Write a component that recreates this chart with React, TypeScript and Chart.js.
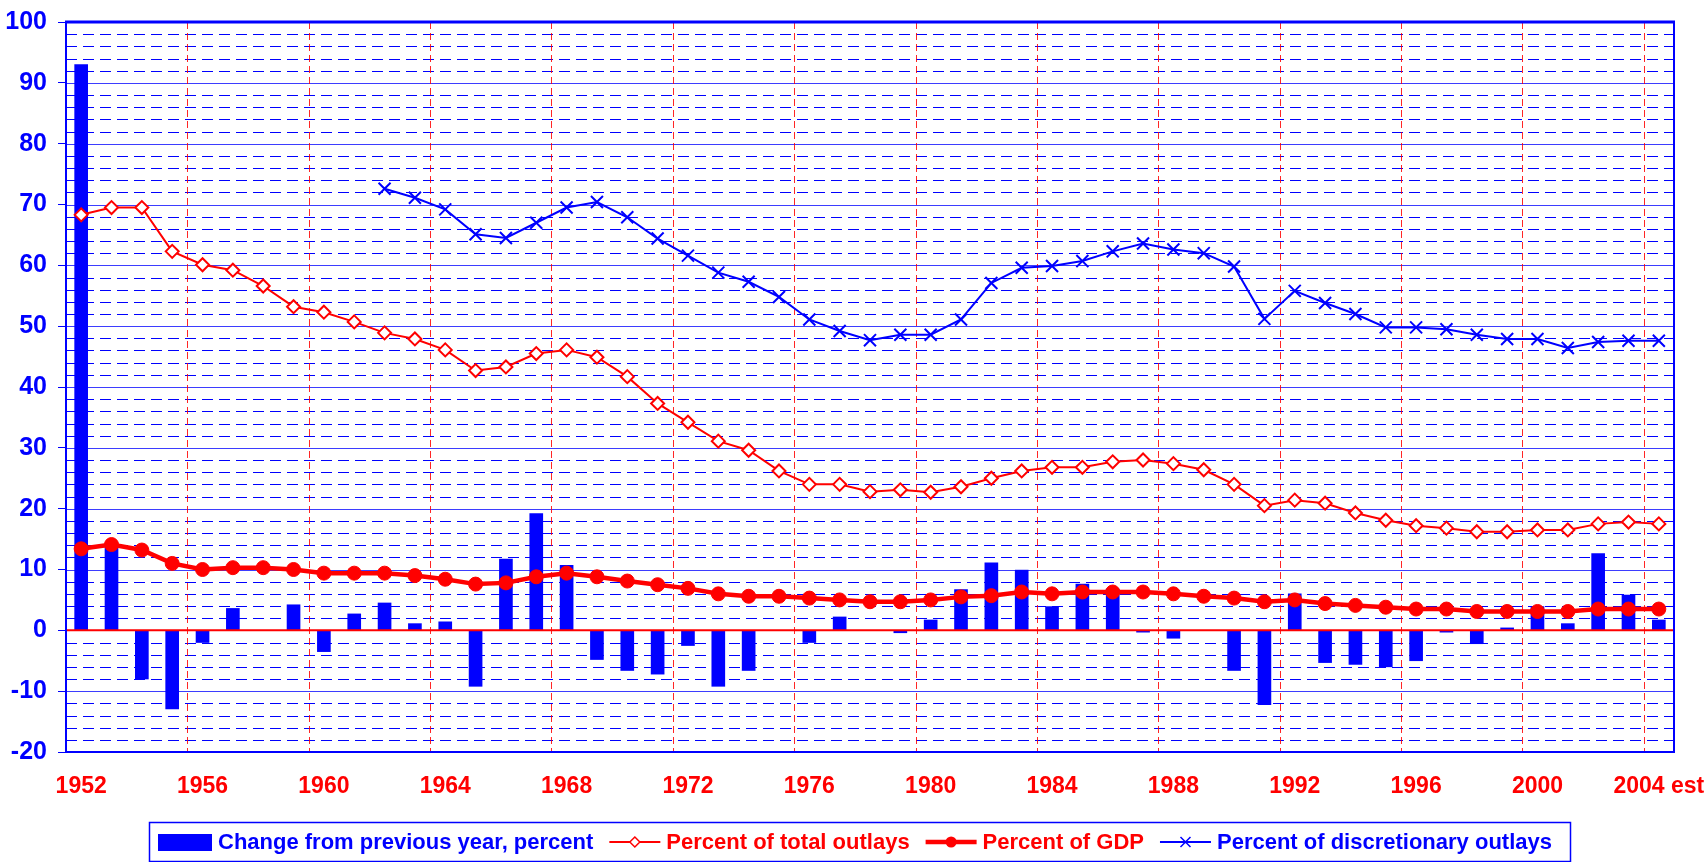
import React, { useEffect, useRef } from 'react';
import { Chart, registerables } from 'chart.js';

Chart.register(...registerables);

const FONT = '"Liberation Sans", Arial, Helvetica, sans-serif';

const years = [
  '1952', '1953', '1954', '1955', '1956', '1957', '1958', '1959', '1960', '1961',
  '1962', '1963', '1964', '1965', '1966', '1967', '1968', '1969', '1970', '1971',
  '1972', '1973', '1974', '1975', '1976', '1977', '1978', '1979', '1980', '1981',
  '1982', '1983', '1984', '1985', '1986', '1987', '1988', '1989', '1990', '1991',
  '1992', '1993', '1994', '1995', '1996', '1997', '1998', '1999', '2000', '2001',
  '2002', '2003', '2004 est',
];

const changeFromPrevYear = [
  93, 14, -8, -12.9, -2.0, 3.6, 0, 4.2, -3.5, 2.7,
  4.5, 1.1, 1.4, -9.2, 11.7, 19.2, 10.7, -4.8, -6.6, -7.2,
  -2.5, -9.2, -6.6, 0, -2.0, 2.2, 0, -0.4, 1.7, 6.7,
  11.1, 9.9, 3.9, 7.6, 6.8, -0.3, -1.3, 0, -6.6, -12.2,
  6.0, -5.3, -5.6, -6.0, -5.0, -0.3, -2.2, 0.4, 3.9, 1.1,
  12.6, 5.8, 1.7,
];

const pctTotalOutlays = [
  68.3, 69.5, 69.5, 62.3, 60.1, 59.2, 56.6, 53.2, 52.3, 50.7,
  48.9, 47.9, 46.1, 42.7, 43.3, 45.5, 46.1, 44.9, 41.7, 37.3,
  34.2, 31.1, 29.6, 26.2, 24.0, 24.0, 22.8, 23.1, 22.7, 23.6,
  25.0, 26.2, 26.8, 26.8, 27.7, 28.0, 27.4, 26.4, 24.0, 20.5,
  21.4, 20.9, 19.3, 18.1, 17.2, 16.8, 16.2, 16.2, 16.5, 16.5,
  17.5, 17.8, 17.5,
];

const pctGDP = [
  13.4, 14.1, 13.2, 11.0, 10.0, 10.3, 10.3, 10.0, 9.4, 9.4,
  9.4, 9.0, 8.4, 7.6, 7.8, 8.8, 9.4, 8.8, 8.1, 7.5,
  6.9, 6.0, 5.6, 5.6, 5.3, 5.0, 4.7, 4.7, 5.0, 5.5,
  5.7, 6.3, 6.0, 6.3, 6.3, 6.3, 6.0, 5.6, 5.3, 4.7,
  5.0, 4.4, 4.1, 3.8, 3.5, 3.5, 3.1, 3.1, 3.1, 3.1,
  3.5, 3.5, 3.5,
];

const pctDiscretionary = [
  null, null, null, null, null, null, null, null, null, null,
  72.6, 71.1, 69.2, 65.1, 64.5, 67.0, 69.5, 70.4, 67.9, 64.4,
  61.6, 58.8, 57.3, 54.8, 51.1, 49.2, 47.7, 48.6, 48.6, 51.1,
  57.1, 59.6, 59.9, 60.7, 62.3, 63.6, 62.6, 62.0, 59.8, 51.2,
  55.8, 53.8, 52.0, 49.8, 49.8, 49.5, 48.6, 47.9, 47.9, 46.4,
  47.4, 47.6, 47.6,
];

const Y_MIN = -20;
const Y_MAX = 100;
const Y_MAJOR = 10;
const Y_MINOR = 2;
const X_LABEL_EVERY = 4;

const BLUE = '#0000ff';
const RED = '#ff0000';

const decorPlugin = {
  id: 'decor',
  beforeDatasetsDraw(chart: any) {
    const { ctx, chartArea: a, scales } = chart;
    const ys = scales.y;
    const xs = scales.x;
    ctx.save();
    ctx.lineWidth = 1;
    ctx.strokeStyle = BLUE;
    ctx.setLineDash([11, 6]);
    for (let v = Y_MIN; v <= Y_MAX; v += Y_MINOR) {
      if (v % Y_MAJOR === 0) continue;
      const py = Math.round(ys.getPixelForValue(v)) + 0.5;
      ctx.beginPath();
      ctx.moveTo(a.left, py);
      ctx.lineTo(a.right, py);
      ctx.stroke();
    }
    ctx.setLineDash([]);
    ctx.strokeStyle = 'rgba(40,40,255,0.9)';
    for (let v = Y_MIN + Y_MAJOR; v < Y_MAX; v += Y_MAJOR) {
      if (v === 0) continue;
      const py = Math.round(ys.getPixelForValue(v)) + 0.5;
      ctx.beginPath();
      ctx.moveTo(a.left, py);
      ctx.lineTo(a.right, py);
      ctx.stroke();
    }
    ctx.strokeStyle = 'rgba(255,0,0,0.85)';
    ctx.setLineDash([7, 4]);
    for (let i = X_LABEL_EVERY; i < years.length; i += X_LABEL_EVERY) {
      const px = Math.round((xs.getPixelForValue(i - 1) + xs.getPixelForValue(i)) / 2) + 0.5;
      ctx.beginPath();
      ctx.moveTo(px, a.top);
      ctx.lineTo(px, a.bottom);
      ctx.stroke();
    }
    ctx.restore();
  },
  afterDatasetsDraw(chart: any) {
    const { ctx, chartArea: a, scales } = chart;
    const ys = scales.y;
    ctx.save();
    const p0 = ys.getPixelForValue(0);
    ctx.strokeStyle = RED;
    ctx.lineWidth = 2;
    ctx.beginPath();
    ctx.moveTo(a.left, p0);
    ctx.lineTo(a.right, p0);
    ctx.stroke();
    ctx.strokeStyle = BLUE;
    ctx.lineWidth = 2;
    ctx.beginPath();
    ctx.moveTo(a.left, a.top);
    ctx.lineTo(a.left, a.bottom);
    ctx.lineTo(a.right, a.bottom);
    ctx.lineTo(a.right, a.top);
    ctx.stroke();
    ctx.lineWidth = 3;
    ctx.beginPath();
    ctx.moveTo(a.left - 1, a.top);
    ctx.lineTo(a.right + 1, a.top);
    ctx.stroke();
    ctx.restore();
  },
  afterDraw(chart: any) {
    const { ctx } = chart;
    const ds = chart.data.datasets;
    ctx.save();
    ctx.font = `bold 22px ${FONT}`;
    ctx.textBaseline = 'middle';
    ctx.textAlign = 'left';
    const cy = 842;
    ctx.strokeStyle = BLUE;
    ctx.lineWidth = 1.5;
    ctx.strokeRect(149.5, 822.5, 1421, 39);
    let x = 158;
    [0, 1, 2, 3].forEach((k) => {
      const d = ds[k];
      if (k === 0) {
        ctx.fillStyle = BLUE;
        ctx.fillRect(x, 834, 54, 17);
        x += 60;
      } else {
        const w = 51;
        ctx.strokeStyle = d.borderColor;
        ctx.lineWidth = d.borderWidth;
        ctx.beginPath();
        ctx.moveTo(x, cy);
        ctx.lineTo(x + w, cy);
        ctx.stroke();
        const mx = x + w / 2;
        if (d.pointStyle === 'rectRot') {
          ctx.fillStyle = '#ffffff';
          ctx.lineWidth = 1.5;
          ctx.beginPath();
          ctx.moveTo(mx, cy - 5);
          ctx.lineTo(mx + 5, cy);
          ctx.lineTo(mx, cy + 5);
          ctx.lineTo(mx - 5, cy);
          ctx.closePath();
          ctx.fill();
          ctx.stroke();
        } else if (d.pointStyle === 'circle') {
          ctx.fillStyle = d.pointBackgroundColor;
          ctx.beginPath();
          ctx.arc(mx, cy, 5.5, 0, Math.PI * 2);
          ctx.fill();
        } else {
          ctx.lineWidth = 1.5;
          ctx.beginPath();
          ctx.moveTo(mx - 5, cy - 5);
          ctx.lineTo(mx + 5, cy + 5);
          ctx.moveTo(mx + 5, cy - 5);
          ctx.lineTo(mx - 5, cy + 5);
          ctx.stroke();
        }
        x += w + 6;
      }
      ctx.fillStyle = d.legendColor;
      ctx.fillText(d.label, x, cy + 1);
      x += ctx.measureText(d.label).width + 16;
    });
    ctx.restore();
  },
};

export default function App() {
  const ref = useRef<HTMLCanvasElement | null>(null);

  useEffect(() => {
    if (!ref.current) return;
    const chart = new Chart(ref.current, {
      type: 'bar',
      data: {
        labels: years,
        datasets: [
          {
            type: 'bar',
            label: 'Change from previous year, percent',
            data: changeFromPrevYear,
            backgroundColor: BLUE,
            borderWidth: 0,
            barThickness: 13,
            order: 4,
            legendColor: BLUE,
          } as any,
          {
            type: 'line',
            label: 'Percent of total outlays',
            data: pctTotalOutlays,
            borderColor: RED,
            borderWidth: 2,
            pointStyle: 'rectRot',
            pointRadius: 6.5,
            pointBackgroundColor: '#ffffff',
            pointBorderColor: RED,
            pointBorderWidth: 2,
            tension: 0,
            order: 3,
            legendColor: RED,
          } as any,
          {
            type: 'line',
            label: 'Percent of GDP',
            data: pctGDP,
            borderColor: RED,
            borderWidth: 4.5,
            pointStyle: 'circle',
            pointRadius: 7,
            pointBackgroundColor: RED,
            pointBorderColor: RED,
            pointBorderWidth: 1,
            tension: 0,
            order: 1,
            legendColor: RED,
          } as any,
          {
            type: 'line',
            label: 'Percent of discretionary outlays',
            data: pctDiscretionary,
            borderColor: BLUE,
            borderWidth: 2,
            pointStyle: 'crossRot',
            pointRadius: 8.5,
            pointBorderColor: BLUE,
            pointBorderWidth: 2,
            tension: 0,
            order: 2,
            legendColor: BLUE,
          } as any,
        ],
      },
      options: {
        responsive: false,
        animation: false,
        layout: { padding: { top: 22, right: 33, bottom: 0, left: 0 } },
        plugins: {
          legend: { display: false },
          tooltip: { enabled: false },
        },
        scales: {
          x: {
            type: 'category',
            offset: true,
            grid: { display: false, drawTicks: false },
            border: { display: false },
            ticks: {
              autoSkip: false,
              maxRotation: 0,
              minRotation: 0,
              padding: 21,
              color: RED,
              font: { family: FONT, size: 23, weight: 'bold' },
              callback: (_v: any, i: number) => (i % X_LABEL_EVERY === 0 ? years[i] : null),
            },
            afterFit: (s: any) => {
              s.height = 110;
              s.paddingLeft = 0;
              s.paddingRight = 0;
            },
          },
          y: {
            min: Y_MIN,
            max: Y_MAX,
            grid: {
              drawOnChartArea: false,
              drawTicks: true,
              tickLength: 8,
              color: BLUE,
              lineWidth: 1,
            },
            border: { display: false },
            ticks: {
              stepSize: Y_MAJOR,
              padding: 11,
              color: BLUE,
              font: { family: FONT, size: 25, weight: 'bold' },
            },
            afterFit: (s: any) => {
              s.width = 66;
              s.paddingTop = 0;
              s.paddingBottom = 0;
            },
          },
        },
      } as any,
      plugins: [decorPlugin],
    });
    return () => chart.destroy();
  }, []);

  return (
    <div style={{ position: 'fixed', left: 0, top: 0, width: 1707, height: 862, background: '#ffffff' }}>
      <canvas ref={ref} width={1707} height={862} />
    </div>
  );
}
